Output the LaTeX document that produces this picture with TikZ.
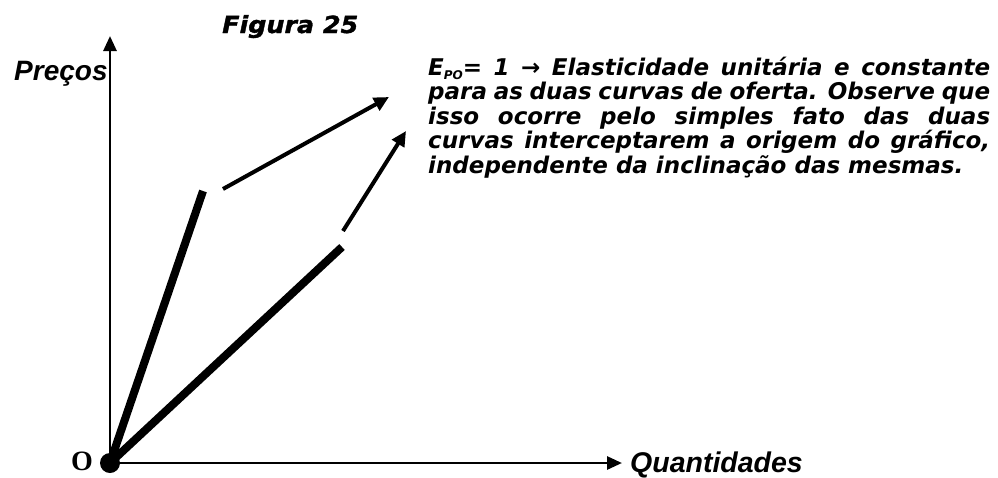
\documentclass[tikz,border=0pt]{standalone}
\usepackage{fontspec}
\setmainfont{DejaVu Sans}
\newfontfamily\arialfont{Liberation Sans}
\newfontfamily\figfont{DejaVu Sans}[FakeStretch=1.08,FakeBold=1.5]
\newfontfamily\oserif{Liberation Serif}
\usetikzlibrary{arrows.meta}
\begin{document}
\begin{tikzpicture}
[x=1pt,y=-1pt,every node/.style={inner sep=0pt},
 eixo/.style={line width=2.8pt,-{Triangle[length=15pt,width=13pt]}},
 reta/.style={line width=8pt},
 seta/.style={line width=4pt,-{Triangle[length=15pt,width=14pt]}}]
   \useasboundingbox (0,0) rectangle (998,477);
   \coordinate (o) at (110,463);
   \coordinate (ytop) at (110,36);
   \coordinate (xend) at (622,463);
   \coordinate (a1) at (203,191);
   \coordinate (a2) at (223,189);
   \coordinate (a3) at (389,97);
   \coordinate (b1) at (342,247);
   \coordinate (b2) at (343,231);
   \coordinate (b3) at (406,131);
   \node[anchor=base west,font=\figfont\fontsize{23.5}{23.5}\selectfont\bfseries\itshape] (fig) at (222,33) {Figura 25};
   \node[anchor=base west,font=\arialfont\fontsize{28}{28}\selectfont\bfseries\itshape] (prec) at (14,80) {Preços};
   \node[anchor=base west,font=\arialfont\fontsize{28.5}{28.5}\selectfont\bfseries\itshape] (quant) at (630,472) {Quantidades};
   \node[anchor=base,font=\oserif\fontsize{28}{28}\selectfont\bfseries] (olab) at (82,470) {O};
   \node[anchor=base west,text width=562pt,align=justify,
     font=\fontsize{23}{24.5}\selectfont\bfseries\itshape] (txt) at (428,75)
     {E\raisebox{-4pt}{\fontsize{12}{12}\selectfont PO}= 1 → Elasticidade unitária e constante\linebreak
      para as duas curvas de oferta. Observe que\linebreak
      isso ocorre pelo simples fato das duas\linebreak
      curvas interceptarem a origem do gráfico,\linebreak
      independente da inclinação das mesmas.};
    % eixos
    \draw[eixo] (o) -- (ytop);
    \draw[eixo] (o) -- (xend);
    % curvas de oferta
    \draw[reta] (o) -- (a1);
    \draw[reta] (o) -- (b1);
    \draw[seta] (a2) -- (a3);
    \draw[seta] (b2) -- (b3);
    \fill (o) circle (10pt);
  \end{tikzpicture}
\end{document}
